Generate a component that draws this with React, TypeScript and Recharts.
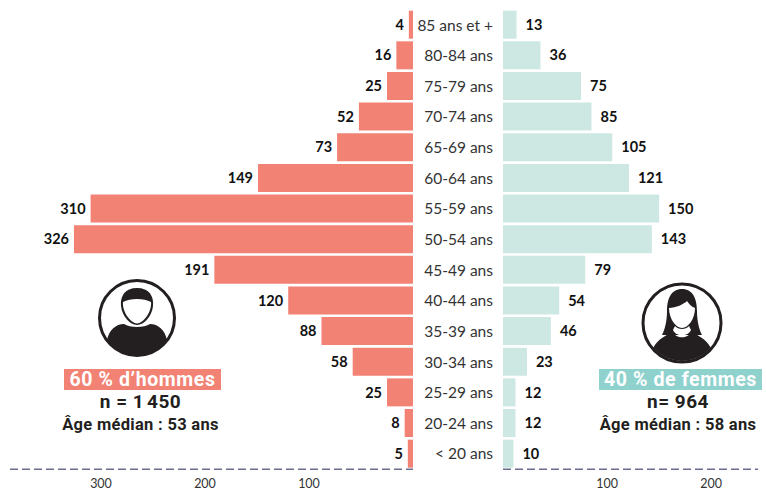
import { BarChart, Bar, XAxis, YAxis, LabelList } from "recharts";

const ageGroups = ["85 ans et +", "80-84 ans", "75-79 ans", "70-74 ans", "65-69 ans", "60-64 ans", "55-59 ans", "50-54 ans", "45-49 ans", "40-44 ans", "35-39 ans", "30-34 ans", "25-29 ans", "20-24 ans", "< 20 ans"];
const menValues = [4, 16, 25, 52, 73, 149, 310, 326, 191, 120, 88, 58, 25, 8, 5];
const womenValues = [13, 36, 75, 85, 105, 121, 150, 143, 79, 54, 46, 23, 12, 12, 10];
const menTicks = [100, 200, 300];
const womenTicks = [100, 200];

const menData = ageGroups.map((age, i) => ({ age, value: menValues[i] }));
const womenData = ageGroups.map((age, i) => ({ age, value: womenValues[i] }));

const SALMON = "#F28274";
const MINT = "#CDE7E3";
const TEAL = "#8FD1CD";
const DASH = "#6A6D8E";
const INK = "#231F20";
const LABEL_FONT = "Lato, sans-serif";
const HEAD_FONT = "Roboto, sans-serif";

const axisLine = { stroke: DASH, strokeWidth: 1.5, strokeDasharray: "8 4" };
const axisTick = { fontFamily: LABEL_FONT, fontSize: 12.5, fill: "#333" };
const valueStyle = { fontFamily: LABEL_FONT, fontSize: 14.5, fontWeight: 700, fill: "#111" };

const PLOT_TOP = 9.7;
const AXIS_HEIGHT = 21.7;

function ManIcon() {
  return (
    <svg width={80} height={80} viewBox="0 0 80 80" style={{ position: "absolute", left: 97, top: 278 }}>
      <defs>
        <clipPath id="manClip"><circle cx={40} cy={40} r={37} /></clipPath>
      </defs>
      <circle cx={40} cy={40} r={37.5} fill="#fff" stroke={INK} strokeWidth={3} />
      <path d="M40 10 C28 10 23 18 24 28 C25 38 33 47 40 47 C47 47 55 38 56 28 C57 18 52 10 40 10 Z" fill={INK} />
      <path d="M26 24 C33 20 47 20 54 24 C55 34 46 45.5 40 45.5 C34 45.5 25 34 26 24 Z" fill="#fff" />
      <path clipPath="url(#manClip)" d="M10 62 C12 52 19 46 27 46 C33 50 47 50 53 46 C61 46 68 52 70 62 L70 80 L10 80 Z" fill={INK} />
    </svg>
  );
}

function WomanIcon() {
  return (
    <svg width={84} height={84} viewBox="0 0 84 84" style={{ position: "absolute", left: 640, top: 281 }}>
      <defs>
        <clipPath id="womanClip"><circle cx={42} cy={42} r={38} /></clipPath>
      </defs>
      <circle cx={42} cy={42} r={39} fill="#fff" stroke={INK} strokeWidth={3} />
      <path d="M42 8 C31 8 27 18 27 30 C27 40 25 48 22 54 L62 54 C59 48 57 40 57 30 C57 18 53 8 42 8 Z" fill={INK} />
      <path d="M29 27 C36 27 44 23 47 20 C50 24 52 26 55 27 C55 38 48 47 42 47 C36 47 29 38 29 27 Z" fill="#fff" />
      <path clipPath="url(#womanClip)" d="M12 70 C15 60 24 55 33 51 C36 58 48 58 51 51 C60 55 69 60 72 70 L72 84 L12 84 Z" fill={INK} />
      <path d="M33 49 C36 56 48 56 51 49 L49 45 C46 49 38 49 35 45 Z" fill="#fff" />
    </svg>
  );
}

function Caption({ left, width, center, bg, title, n, median }: { left: number; width: number; center: number; bg: string; title: string; n: string; median: string }) {
  const line = { position: "absolute" as const, textAlign: "center" as const, fontFamily: HEAD_FONT, fontWeight: 700, color: INK, whiteSpace: "nowrap" as const };
  const centred = { ...line, left: center - 100, width: 200 };
  return (
    <>
      <div style={{ ...line, left, width, top: 369, height: 21, lineHeight: "21px", background: bg, color: "#fff", fontSize: 19.5, letterSpacing: 0.6 }}>{title}</div>
      <div style={{ ...centred, top: 391, height: 22, lineHeight: "22px", fontSize: 19, letterSpacing: 0.5 }}>{n}</div>
      <div style={{ ...centred, top: 415, height: 20, lineHeight: "20px", fontSize: 16.5, letterSpacing: 0.3 }}>{median}</div>
    </>
  );
}

export default function App() {
  return (
    <div style={{ position: "absolute", left: 0, top: 0, width: 766, height: 491, background: "#fff", overflow: "hidden" }}>
      <div style={{ position: "absolute", left: 10, top: 0 }}>
        <BarChart width={403} height={491} data={menData} layout="vertical" margin={{ top: PLOT_TOP, right: 0, bottom: 0, left: 0 }} barSize={28}>
          <XAxis type="number" reversed domain={[0, 387.5]} ticks={menTicks} interval={0} height={AXIS_HEIGHT} axisLine={axisLine} tickLine={false} tick={axisTick} tickMargin={4} />
          <YAxis type="category" dataKey="age" hide />
          <Bar dataKey="value" fill={SALMON} isAnimationActive={false}>
            <LabelList dataKey="value" position="right" offset={5} style={valueStyle} />
          </Bar>
        </BarChart>
      </div>
      <div style={{ position: "absolute", left: 413, top: 0 }}>
        <BarChart width={345} height={491} data={womenData} layout="vertical" margin={{ top: PLOT_TOP, right: 0, bottom: 0, left: 0 }} barSize={28}>
          <XAxis type="number" domain={[0, 245]} ticks={womenTicks} interval={0} height={AXIS_HEIGHT} axisLine={axisLine} tickLine={false} tick={axisTick} tickMargin={4} />
          <YAxis type="category" dataKey="age" width={90} interval={0} axisLine={false} tickLine={false} tickMargin={4} tick={{ fontFamily: LABEL_FONT, fontSize: 15.5, fill: "#333" }} />
          <Bar dataKey="value" fill={MINT} isAnimationActive={false}>
            <LabelList dataKey="value" position="right" offset={9} style={valueStyle} />
          </Bar>
        </BarChart>
      </div>
      <ManIcon />
      <WomanIcon />
      <Caption left={64} width={157} center={140.5} bg={SALMON} title="60 % d’hommes" n={"n = 1\u202F450"} median="Âge médian : 53 ans" />
      <Caption left={599} width={163} center={678} bg={TEAL} title="40 % de femmes" n="n= 964" median="Âge médian : 58 ans" />
    </div>
  );
}
